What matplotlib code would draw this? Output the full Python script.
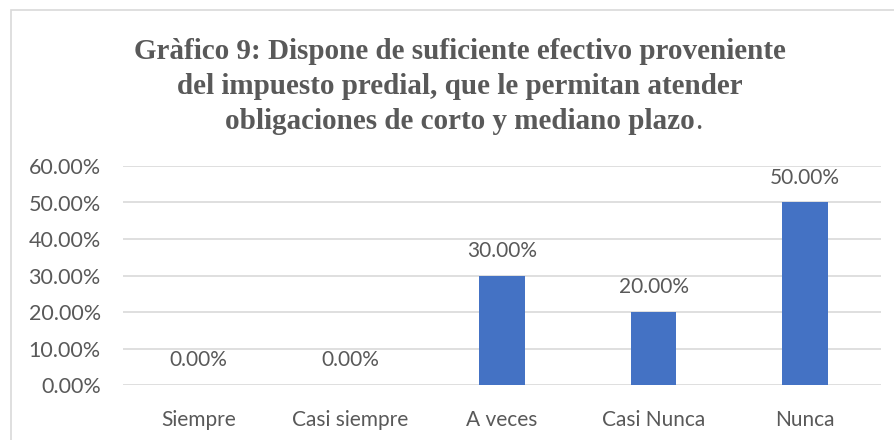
import matplotlib.pyplot as plt
from matplotlib.patches import Rectangle

categorias = ["Siempre", "Casi siempre", "A veces", "Casi Nunca", "Nunca"]
valores = [0.0, 0.0, 30.0, 20.0, 50.0]
ticks_y = [0, 10, 20, 30, 40, 50, 60]

gris = "#595959"

fig = plt.figure(figsize=(8.95, 4.4), dpi=100)
ax = fig.add_axes([123/895, 1 - 385/440, (881 - 123)/895, (385 - 166)/440])

x = range(len(categorias))
barras = ax.bar(x, valores, width=0.3, color="#4472C4", zorder=3)

for xi, v in zip(x, valores):
    ax.text(xi, v + 4.0, f"{v:.2f}%", ha="center", va="bottom",
            fontsize=15, family="Lato", color=gris)

ax.set_ylim(0, 60)
ax.set_xlim(-0.5, len(categorias) - 0.5)
ax.set_yticks(ticks_y)
ax.set_yticklabels([f"{t:.2f}%" for t in ticks_y], family="Lato", fontsize=15.5, color=gris)
ax.set_xticks(list(x))
ax.set_xticklabels(categorias, family="Lato", fontsize=15, color=gris)
ax.tick_params(axis="y", length=0, pad=16)
ax.tick_params(axis="x", length=0, pad=18)
ax.grid(axis="y", color="#D9D9D9", linewidth=1.2, zorder=0)
for s in ax.spines.values():
    s.set_visible(False)

# titulo (el punto final no va en negrita)
titulo = ["Gràfico 9: Dispone de suficiente efectivo proveniente",
          "del impuesto predial, que le permitan atender",
          "obligaciones de corto y mediano plazo"]
for i, linea in enumerate(titulo):
    t = fig.text(0.514, 1 - (59 + 35 * i)/440, linea, ha="center", va="baseline",
                 fontsize=21, family="Liberation Serif", weight="bold", color=gris)
fig.canvas.draw()
bb = t.get_window_extent()
fig.text(bb.x1 / 895, 1 - (59 + 35 * 2)/440, ".", ha="left", va="baseline",
         fontsize=21, family="Liberation Serif", color=gris)

# borde del grafico
fig.patches.append(Rectangle((11/895, -0.05), 1.05, 1 - 10/440 + 0.05,
                             transform=fig.transFigure, fill=False,
                             edgecolor="#D9D9D9", linewidth=1.2))

fig.savefig("out.png", dpi=100)
